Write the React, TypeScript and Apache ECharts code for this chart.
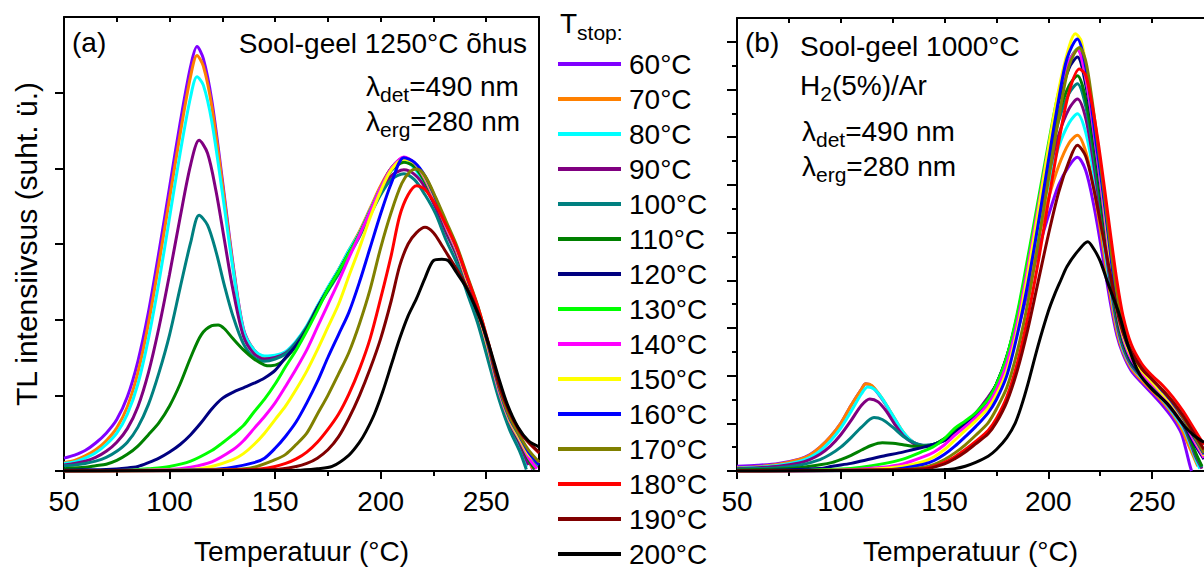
import React, { useEffect, useRef } from "react";
import * as echarts from "echarts";

const FONT = "Liberation Sans";

const stopLabels = ["60°C", "70°C", "80°C", "90°C", "100°C", "110°C", "120°C", "130°C", "140°C", "150°C", "160°C", "170°C", "180°C", "190°C", "200°C"];
const lineColors = ["#8000ff", "#ff8000", "#00ffff", "#800080", "#008080", "#008000", "#000080", "#00ff00", "#ff00ff", "#ffff00", "#0000ff", "#808000", "#ff0000", "#800000", "#000000"];

const xMajorTicks = [50, 100, 150, 200, 250];
const xMinorTicks = [75, 125, 175, 225];
const xTopTicks = [75, 100, 125, 150, 175, 200, 225, 250];
const aYTicks = [0, 1, 2, 3, 4, 5];
const bYMajorTicks = [0, 1, 2, 3, 4, 5, 6, 7, 8, 9];
const bYMinorTicks = [0.5, 1.5, 2.5, 3.5, 4.5, 5.5, 6.5, 7.5, 8.5];

// Panel (a): Sool-geel 1250°C õhus  — [temperature °C, intensity]
const a60 = [[50,0.17],[55,0.21],[60,0.27],[65,0.37],[70,0.5],[75,0.68],[80,0.98],[85,1.45],[90,2.1],[95,2.9],[100,3.75],[105,4.6],[110,5.35],[113,5.61],[116,5.45],[120,4.9],[125,3.85],[130,2.75],[135,1.88],[140,1.6],[145,1.5],[150,1.5],[155,1.56],[160,1.7],[165,1.9],[170,2.17],[175,2.42],[180,2.65],[185,2.9],[190,3.15],[195,3.45],[200,3.75],[205,4.0],[211,4.13],[216,4.05],[221,3.85],[226,3.55],[231,3.2],[236,2.9],[241,2.5],[246,2.1],[251,1.6],[256,1.05],[261,0.65],[266,0.38],[270,0.15],[272,0.02]];
const a70 = [[50,0.11],[55,0.14],[60,0.2],[65,0.28],[70,0.4],[75,0.57],[80,0.85],[85,1.3],[90,1.95],[95,2.75],[100,3.6],[105,4.45],[110,5.22],[113,5.49],[116,5.35],[120,4.82],[125,3.8],[130,2.72],[135,1.86],[140,1.6],[145,1.5],[150,1.5],[155,1.56],[160,1.7],[165,1.9],[170,2.17],[175,2.42],[180,2.66],[185,2.92],[190,3.17],[195,3.47],[200,3.77],[205,4.0],[211,4.12],[216,4.04],[221,3.84],[226,3.55],[231,3.22],[236,2.9],[241,2.5],[246,2.1],[251,1.6],[256,1.05],[261,0.66],[266,0.38],[270,0.15],[272,0.03]];
const a80 = [[50,0.1],[55,0.12],[60,0.17],[65,0.24],[70,0.35],[75,0.5],[80,0.75],[85,1.15],[90,1.75],[95,2.5],[100,3.35],[105,4.2],[110,4.95],[113,5.21],[116,5.1],[120,4.62],[125,3.68],[130,2.68],[135,1.86],[140,1.6],[145,1.52],[150,1.53],[155,1.58],[160,1.72],[165,1.92],[170,2.18],[175,2.43],[180,2.66],[185,2.92],[190,3.15],[195,3.45],[200,3.74],[205,3.97],[211,4.1],[216,4.0],[221,3.78],[226,3.5],[231,3.15],[236,2.85],[241,2.45],[246,2.05],[251,1.55],[256,1.0],[261,0.6],[266,0.32],[269,0.05]];
const a90 = [[50,0.08],[55,0.1],[60,0.13],[65,0.18],[70,0.26],[75,0.38],[80,0.56],[85,0.85],[90,1.3],[95,1.9],[100,2.6],[105,3.35],[110,4.05],[114,4.37],[118,4.2],[122,3.7],[126,3.05],[130,2.4],[135,1.78],[140,1.55],[145,1.48],[150,1.5],[155,1.56],[160,1.7],[165,1.9],[170,2.16],[175,2.4],[180,2.63],[185,2.88],[190,3.12],[195,3.4],[200,3.68],[205,3.9],[211,3.98],[216,3.92],[221,3.75],[226,3.48],[231,3.15],[236,2.85],[241,2.45],[246,2.05],[251,1.55],[256,1.02],[261,0.62],[266,0.35],[270,0.08]];
const a100 = [[50,0.07],[55,0.08],[60,0.1],[65,0.13],[70,0.18],[75,0.26],[80,0.38],[85,0.58],[90,0.88],[95,1.3],[100,1.8],[105,2.42],[110,3.02],[114,3.38],[118,3.25],[122,2.9],[126,2.45],[130,2.05],[135,1.68],[140,1.5],[145,1.45],[150,1.48],[155,1.55],[160,1.7],[165,1.9],[170,2.15],[175,2.38],[180,2.6],[185,2.85],[190,3.1],[195,3.38],[200,3.65],[205,3.85],[211,3.93],[216,3.85],[221,3.65],[226,3.4],[231,3.05],[236,2.75],[241,2.35],[246,1.95],[251,1.45],[256,0.95],[261,0.55],[266,0.25],[269,0.02]];
const a110 = [[50,0.03],[55,0.04],[60,0.05],[65,0.07],[70,0.09],[75,0.14],[80,0.22],[85,0.33],[90,0.48],[95,0.64],[100,0.86],[105,1.15],[110,1.5],[115,1.8],[120,1.92],[123,1.93],[126,1.88],[130,1.75],[135,1.6],[140,1.48],[145,1.4],[148,1.39],[152,1.42],[156,1.52],[160,1.66],[165,1.88],[170,2.15],[175,2.4],[180,2.63],[185,2.88],[190,3.13],[195,3.43],[200,3.72],[205,3.97],[211,4.08],[216,4.02],[221,3.82],[226,3.55],[231,3.2],[236,2.88],[241,2.48],[246,2.08],[251,1.58],[256,1.05],[261,0.65],[266,0.38],[270,0.15],[273,0.02]];
const a120 = [[50,0.01],[60,0.015],[70,0.02],[80,0.04],[85,0.06],[90,0.11],[95,0.17],[100,0.25],[105,0.35],[110,0.48],[115,0.64],[120,0.82],[125,0.96],[130,1.04],[135,1.1],[140,1.16],[145,1.23],[150,1.33],[155,1.5],[160,1.66],[165,1.87],[170,2.15],[175,2.4],[180,2.63],[185,2.88],[190,3.13],[195,3.43],[200,3.73],[205,4.0],[211,4.13],[216,4.06],[221,3.86],[226,3.57],[231,3.23],[236,2.92],[241,2.52],[246,2.12],[251,1.62],[256,1.08],[261,0.68],[266,0.4],[270,0.2],[274,0.04]];
const a130 = [[50,0],[80,0.01],[90,0.03],[100,0.06],[110,0.13],[120,0.27],[125,0.37],[130,0.48],[135,0.6],[140,0.78],[145,0.95],[150,1.15],[155,1.38],[160,1.6],[165,1.85],[170,2.12],[175,2.4],[180,2.63],[185,2.88],[190,3.13],[195,3.43],[200,3.73],[205,4.0],[211,4.14],[216,4.07],[221,3.85],[226,3.56],[231,3.22],[236,2.9],[241,2.5],[246,2.1],[251,1.6],[256,1.05],[261,0.66],[266,0.4],[270,0.2],[274,0.05]];
const a140 = [[50,0],[100,0.02],[110,0.05],[120,0.12],[130,0.28],[135,0.4],[140,0.56],[145,0.72],[150,0.9],[155,1.12],[160,1.35],[165,1.6],[170,1.9],[175,2.2],[180,2.5],[185,2.82],[190,3.12],[195,3.43],[200,3.74],[205,4.0],[211,4.15],[216,4.07],[221,3.86],[226,3.56],[231,3.22],[236,2.9],[241,2.5],[246,2.1],[251,1.6],[256,1.05],[261,0.66],[266,0.4],[270,0.18],[274,0.03]];
const a150 = [[50,0],[110,0.02],[120,0.06],[130,0.15],[135,0.23],[140,0.35],[145,0.5],[150,0.68],[155,0.86],[160,1.08],[165,1.32],[170,1.6],[175,1.9],[180,2.2],[185,2.58],[190,2.95],[195,3.35],[200,3.7],[205,3.98],[211,4.12],[216,4.07],[221,3.88],[226,3.58],[231,3.25],[236,2.93],[241,2.52],[246,2.12],[251,1.62],[256,1.08],[261,0.68],[266,0.42],[270,0.22],[275,0.1]];
const a160 = [[50,0],[120,0.02],[130,0.05],[140,0.11],[145,0.17],[150,0.3],[155,0.46],[160,0.65],[165,0.9],[170,1.18],[175,1.5],[180,1.8],[185,2.1],[190,2.5],[195,2.95],[200,3.4],[205,3.8],[211,4.14],[216,4.08],[221,3.9],[226,3.6],[231,3.27],[236,2.95],[241,2.55],[246,2.15],[251,1.65],[256,1.1],[261,0.7],[266,0.45],[270,0.25],[275,0.08]];
const a170 = [[50,0],[130,0.02],[140,0.05],[150,0.15],[155,0.22],[160,0.35],[165,0.5],[170,0.75],[175,1.0],[180,1.28],[185,1.57],[190,1.95],[195,2.4],[200,2.95],[205,3.42],[210,3.8],[214,3.96],[217,3.99],[221,3.9],[226,3.62],[231,3.3],[236,2.98],[241,2.58],[246,2.18],[251,1.68],[256,1.12],[261,0.72],[266,0.46],[270,0.28],[275,0.12]];
const a180 = [[50,0],[140,0.02],[150,0.06],[155,0.1],[160,0.16],[165,0.25],[170,0.38],[175,0.55],[180,0.75],[185,1.02],[190,1.35],[195,1.75],[200,2.28],[205,2.85],[209,3.37],[213,3.65],[217,3.77],[221,3.72],[226,3.52],[231,3.25],[236,2.95],[241,2.56],[246,2.17],[251,1.7],[256,1.15],[261,0.78],[266,0.52],[270,0.38],[275,0.24]];
const a190 = [[50,0],[150,0.02],[160,0.06],[165,0.1],[170,0.17],[175,0.28],[180,0.45],[185,0.7],[190,1.0],[195,1.35],[200,1.75],[205,2.25],[209,2.71],[213,3.0],[217,3.15],[221,3.22],[225,3.15],[229,2.98],[233,2.8],[237,2.62],[241,2.42],[246,2.1],[251,1.68],[256,1.15],[261,0.78],[266,0.52],[270,0.38],[275,0.25]];
const a200 = [[50,0],[160,0.01],[170,0.03],[177,0.06],[185,0.21],[190,0.38],[193,0.52],[197,0.75],[201,1.05],[205,1.4],[209,1.75],[213,2.05],[217,2.28],[221,2.55],[225,2.78],[229,2.8],[232,2.78],[236,2.62],[240,2.45],[244,2.22],[248,1.95],[252,1.6],[256,1.22],[260,0.88],[265,0.58],[270,0.4],[275,0.32]];

// Panel (b): Sool-geel 1000°C H2(5%)/Ar — [temperature °C, intensity]
const b60 = [[50,0.1],[60,0.12],[70,0.16],[80,0.25],[85,0.34],[90,0.5],[95,0.72],[100,1.0],[105,1.38],[110,1.72],[112,1.83],[115,1.78],[120,1.5],[125,1.15],[130,0.8],[135,0.6],[140,0.53],[145,0.55],[150,0.65],[155,0.82],[160,0.97],[165,1.17],[170,1.45],[175,1.75],[180,2.2],[185,2.9],[190,3.75],[195,4.6],[200,5.35],[205,6.0],[210,6.4],[214,6.58],[218,6.3],[222,5.55],[226,4.55],[230,3.5],[233,2.85],[236,2.45],[240,2.1],[245,1.85],[250,1.62],[255,1.38],[260,1.1],[264,0.8],[266,0.5],[268,0.15],[269,0]];
const b70 = [[50,0.07],[60,0.09],[70,0.14],[80,0.24],[85,0.33],[90,0.5],[95,0.72],[100,1.0],[105,1.38],[110,1.72],[112,1.83],[115,1.79],[120,1.52],[125,1.17],[130,0.82],[135,0.6],[140,0.53],[145,0.55],[150,0.66],[155,0.83],[160,0.98],[165,1.18],[170,1.46],[175,1.78],[180,2.25],[185,3.0],[190,3.9],[195,4.85],[200,5.7],[205,6.4],[210,6.88],[214,7.04],[218,6.7],[222,5.9],[226,4.8],[230,3.65],[233,2.95],[236,2.5],[240,2.15],[245,1.9],[250,1.68],[255,1.45],[260,1.18],[264,0.9],[267,0.6],[270,0.3],[272,0.1]];
const b80 = [[50,0.06],[60,0.08],[70,0.12],[80,0.2],[85,0.28],[90,0.42],[95,0.63],[100,0.9],[105,1.25],[110,1.62],[113,1.76],[116,1.72],[120,1.52],[125,1.17],[130,0.82],[135,0.6],[140,0.53],[145,0.56],[150,0.67],[155,0.84],[160,0.99],[165,1.2],[170,1.48],[175,1.8],[180,2.3],[185,3.1],[190,4.05],[195,5.05],[200,6.0],[205,6.8],[210,7.3],[214,7.49],[218,7.1],[222,6.2],[226,5.0],[230,3.8],[233,3.05],[236,2.55],[240,2.2],[245,1.95],[250,1.72],[255,1.5],[260,1.22],[265,0.9],[268,0.6],[271,0.25],[273,0.05]];
const b90 = [[50,0.05],[60,0.07],[70,0.1],[80,0.17],[85,0.24],[90,0.35],[95,0.52],[100,0.76],[105,1.06],[110,1.38],[114,1.51],[118,1.45],[122,1.25],[126,0.98],[130,0.75],[135,0.58],[140,0.53],[145,0.56],[150,0.67],[155,0.84],[160,1.0],[165,1.21],[170,1.49],[175,1.82],[180,2.35],[185,3.15],[190,4.15],[195,5.2],[200,6.2],[205,7.05],[210,7.6],[214,7.8],[218,7.4],[222,6.4],[226,5.15],[230,3.9],[233,3.1],[236,2.6],[240,2.22],[245,1.97],[250,1.75],[255,1.52],[260,1.25],[265,0.95],[268,0.65],[271,0.3],[274,0.05]];
const b100 = [[50,0.04],[60,0.05],[70,0.07],[80,0.12],[90,0.24],[95,0.35],[100,0.5],[105,0.7],[110,0.92],[116,1.12],[120,1.08],[125,0.92],[130,0.73],[135,0.6],[140,0.54],[145,0.56],[150,0.67],[155,0.85],[160,1.0],[165,1.21],[171,1.5],[175,1.82],[180,2.38],[185,3.2],[190,4.25],[195,5.35],[200,6.45],[205,7.35],[210,7.92],[214,8.12],[218,7.65],[222,6.6],[226,5.3],[230,4.0],[233,3.2],[236,2.65],[240,2.25],[245,1.98],[250,1.77],[255,1.55],[260,1.28],[265,0.98],[268,0.7],[271,0.35],[274,0.08]];
const b110 = [[50,0.02],[60,0.03],[70,0.04],[80,0.07],[90,0.13],[96,0.18],[100,0.24],[105,0.33],[110,0.44],[115,0.54],[120,0.59],[125,0.58],[130,0.55],[135,0.52],[140,0.52],[145,0.56],[150,0.68],[155,0.86],[160,1.0],[165,1.21],[171,1.5],[175,1.82],[180,2.4],[185,3.22],[190,4.3],[195,5.42],[200,6.55],[205,7.5],[210,8.08],[214,8.29],[218,7.8],[222,6.75],[226,5.45],[230,4.1],[233,3.25],[236,2.7],[240,2.28],[245,2.0],[250,1.78],[255,1.56],[260,1.3],[265,1.0],[268,0.72],[271,0.38],[274,0.1]];
const b120 = [[50,0.01],[70,0.02],[90,0.05],[96,0.1],[105,0.16],[110,0.21],[120,0.31],[128,0.38],[135,0.45],[140,0.5],[145,0.56],[151,0.66],[157,0.87],[160,0.98],[165,1.18],[171,1.5],[175,1.82],[180,2.4],[185,3.25],[190,4.35],[195,5.5],[200,6.7],[205,7.75],[210,8.45],[214,8.68],[218,8.1],[222,7.0],[226,5.65],[230,4.25],[233,3.35],[236,2.75],[240,2.3],[245,2.0],[250,1.8],[255,1.58],[260,1.3],[265,1.0],[270,0.6],[275,0.25]];
const b130 = [[50,0],[80,0.01],[100,0.04],[110,0.08],[120,0.15],[130,0.25],[140,0.42],[145,0.52],[150,0.68],[155,0.9],[160,1.05],[165,1.22],[171,1.5],[175,1.82],[180,2.4],[185,3.3],[190,4.45],[195,5.65],[200,6.85],[205,7.95],[210,8.6],[214,8.85],[218,8.25],[222,7.1],[226,5.75],[230,4.3],[233,3.4],[236,2.8],[240,2.35],[245,2.05],[250,1.82],[255,1.6],[260,1.35],[265,1.05],[270,0.68],[275,0.3]];
const b140 = [[50,0],[100,0.02],[120,0.08],[130,0.15],[140,0.3],[145,0.4],[150,0.55],[155,0.75],[160,0.93],[165,1.12],[171,1.4],[175,1.7],[180,2.25],[185,3.1],[190,4.25],[195,5.5],[200,6.75],[205,7.9],[210,8.6],[214,8.83],[218,8.25],[222,7.1],[226,5.75],[230,4.3],[233,3.4],[236,2.8],[240,2.35],[245,2.05],[250,1.82],[255,1.6],[260,1.35],[265,1.05],[270,0.65],[275,0.28]];
const b150 = [[50,0],[110,0.02],[120,0.05],[130,0.1],[140,0.2],[145,0.3],[150,0.45],[155,0.65],[160,0.85],[165,1.05],[171,1.32],[175,1.6],[180,2.1],[185,2.95],[190,4.1],[195,5.4],[200,6.75],[205,8.0],[210,8.9],[213,9.17],[216,9.0],[219,8.2],[222,7.3],[226,5.9],[230,4.4],[233,3.45],[236,2.85],[240,2.4],[245,2.1],[250,1.86],[255,1.62],[260,1.38],[265,1.08],[270,0.7],[275,0.32]];
const b160 = [[50,0],[120,0.02],[130,0.06],[140,0.14],[145,0.22],[150,0.35],[155,0.52],[160,0.72],[165,0.93],[171,1.22],[175,1.5],[180,2.0],[185,2.85],[190,3.9],[195,5.15],[200,6.5],[205,7.8],[209,8.65],[214,9.06],[217,8.7],[220,7.9],[223,6.9],[226,5.95],[229,4.9],[232,3.85],[235,3.1],[238,2.65],[242,2.35],[246,2.1],[250,1.92],[255,1.68],[260,1.42],[265,1.1],[270,0.72],[275,0.35]];
const b170 = [[50,0],[130,0.03],[140,0.08],[145,0.14],[150,0.24],[155,0.38],[160,0.55],[165,0.75],[171,1.01],[175,1.3],[180,1.75],[185,2.5],[190,3.5],[195,4.75],[200,6.1],[205,7.4],[210,8.5],[215,8.88],[218,8.6],[221,7.8],[224,6.8],[227,5.8],[230,4.7],[233,3.75],[236,3.05],[240,2.5],[245,2.15],[250,1.92],[255,1.7],[260,1.45],[265,1.12],[270,0.75],[275,0.38]];
const b180 = [[50,0],[130,0.02],[140,0.05],[145,0.1],[150,0.18],[155,0.3],[160,0.45],[165,0.62],[171,0.85],[175,1.1],[180,1.55],[185,2.25],[190,3.2],[195,4.35],[200,5.65],[205,6.9],[210,7.95],[215,8.43],[218,8.3],[221,7.7],[224,6.9],[227,5.95],[230,4.95],[233,4.0],[236,3.25],[240,2.65],[245,2.25],[250,2.0],[255,1.8],[260,1.55],[265,1.25],[270,0.9],[275,0.55]];
const b190 = [[50,0],[140,0.04],[150,0.15],[155,0.26],[160,0.4],[165,0.57],[171,0.78],[175,1.02],[180,1.45],[185,2.1],[190,2.95],[195,3.95],[200,4.95],[205,5.85],[210,6.5],[214,6.83],[218,6.6],[222,5.9],[226,5.0],[230,4.1],[233,3.4],[236,2.9],[240,2.5],[245,2.15],[250,1.92],[255,1.7],[260,1.45],[265,1.15],[270,0.8],[275,0.45]];
const b200 = [[50,0],[140,0.01],[150,0.03],[155,0.05],[160,0.1],[165,0.18],[171,0.31],[175,0.45],[180,0.7],[184,1.0],[187,1.36],[190,1.8],[195,2.62],[200,3.35],[203,3.7],[206,4.0],[209,4.29],[214,4.6],[219,4.81],[222,4.65],[225,4.4],[229,3.9],[234,3.31],[239,2.55],[244,2.03],[250,1.71],[254,1.55],[258,1.38],[262,1.15],[266,0.92],[270,0.75],[275,0.6]];

const panelA = [a60, a70, a80, a90, a100, a110, a120, a130, a140, a150, a160, a170, a180, a190, a200];
const panelB = [b60, b70, b80, b90, b100, b110, b120, b130, b140, b150, b160, b170, b180, b190, b200];

let measureCtx: CanvasRenderingContext2D | null = null;
function textWidth(text: string, size: number): number {
  if (!measureCtx) measureCtx = document.createElement("canvas").getContext("2d");
  if (!measureCtx) return text.length * size * 0.55;
  measureCtx.font = `${size}px "${FONT}"`;
  return measureCtx.measureText(text).width;
}

type Part = { t: string; sub?: boolean };
function textLine(x: number, baseline: number, parts: Part[], align: "left" | "right" = "left", main = 28, subSize = 21, subDrop = 6) {
  const widths = parts.map((p) => textWidth(p.t, p.sub ? subSize : main));
  const total = widths.reduce((s, w) => s + w, 0);
  let cx = align === "right" ? x - total : x;
  const els: any[] = [];
  parts.forEach((p, i) => {
    const fs = p.sub ? subSize : main;
    const bl = p.sub ? baseline + subDrop : baseline;
    els.push({
      type: "text",
      x: cx,
      y: bl - 0.3465 * fs,
      silent: true,
      style: { text: p.t, fontSize: fs, fontFamily: FONT, fill: "#000", align: "left", verticalAlign: "middle" },
    });
    cx += widths[i];
  });
  return els;
}

const black = { color: "#000", width: 2 };

function xAxesFor(grid: number) {
  return [
    {
      type: "value", gridIndex: grid, position: "bottom", min: 50, max: 275, interval: 50,
      axisLine: { show: true, onZero: false, lineStyle: black },
      axisTick: { show: true, customValues: xMajorTicks, length: 8, lineStyle: black },
      axisLabel: { show: true, customValues: xMajorTicks, margin: 16, fontSize: 28, fontFamily: FONT, color: "#000", lineHeight: 28 },
      splitLine: { show: false },
      name: "Temperatuur (°C)", nameLocation: "middle", nameGap: 66,
      nameTextStyle: { fontSize: 28, fontFamily: FONT, color: "#000", lineHeight: 28 },
    },
    {
      type: "value", gridIndex: grid, position: "bottom", min: 50, max: 275,
      axisLine: { show: false, onZero: false },
      axisTick: { show: true, customValues: xMinorTicks, length: 5, lineStyle: black },
      axisLabel: { show: false }, splitLine: { show: false },
    },
    {
      type: "value", gridIndex: grid, position: "top", min: 50, max: 275,
      axisLine: { show: true, onZero: false, lineStyle: black },
      axisTick: { show: true, inside: true, customValues: xTopTicks, length: 5, lineStyle: black },
      axisLabel: { show: false }, splitLine: { show: false },
    },
  ];
}

export default function App() {
  const ref = useRef<HTMLDivElement>(null);
  useEffect(() => {
    if (!ref.current) return;
    const chart = echarts.init(ref.current, undefined, { renderer: "svg" });

    const series: any[] = [];
    panelA.forEach((d, i) => {
      series.push({
        type: "line", name: stopLabels[i], xAxisIndex: 0, yAxisIndex: 0, data: d,
        showSymbol: false, symbol: "none", smooth: 0.3, clip: true,
        lineStyle: { width: 3, color: lineColors[i] }, itemStyle: { color: lineColors[i] },
      });
    });
    panelB.forEach((d, i) => {
      series.push({
        type: "line", name: stopLabels[i], xAxisIndex: 3, yAxisIndex: 2, data: d,
        showSymbol: false, symbol: "none", smooth: 0.3, clip: true,
        lineStyle: { width: 3, color: lineColors[i] }, itemStyle: { color: lineColors[i] },
      });
    });

    const graphics: any[] = [
      ...textLine(72, 52, [{ t: "(a)" }]),
      ...textLine(527, 53, [{ t: "Sool-geel 1250°C õhus" }], "right"),
      ...textLine(366, 96, [{ t: "λ" }, { t: "det", sub: true }, { t: "=490 nm" }]),
      ...textLine(366, 131, [{ t: "λ" }, { t: "erg", sub: true }, { t: "=280 nm" }]),
      ...textLine(745, 52, [{ t: "(b)" }]),
      ...textLine(800, 56, [{ t: "Sool-geel 1000°C" }]),
      ...textLine(800, 95, [{ t: "H" }, { t: "2", sub: true }, { t: "(5%)/Ar" }]),
      ...textLine(802, 141, [{ t: "λ" }, { t: "det", sub: true }, { t: "=490 nm" }]),
      ...textLine(802, 176, [{ t: "λ" }, { t: "erg", sub: true }, { t: "=280 nm" }]),
      ...textLine(560, 33, [{ t: "T" }, { t: "stop:", sub: true }], "left", 28, 21, 7),
    ];

    chart.setOption({
      animation: false,
      backgroundColor: "#fff",
      textStyle: { fontFamily: FONT },
      grid: [
        { left: 64, top: 17, width: 475, height: 456, containLabel: false },
        { left: 737, top: 18, width: 475, height: 455, containLabel: false },
      ],
      xAxis: [...xAxesFor(0), ...xAxesFor(1)],
      yAxis: [
        {
          type: "value", gridIndex: 0, position: "left", min: 0, max: 6,
          axisLine: { show: true, onZero: false, lineStyle: black },
          axisTick: { show: true, customValues: aYTicks, length: 9, lineStyle: black },
          axisLabel: { show: false }, splitLine: { show: false },
          name: "TL intensiivsus (suht. ü.)", nameLocation: "middle", nameGap: 23,
          nameTextStyle: { fontSize: 30, fontFamily: FONT, color: "#000", lineHeight: 30 },
        },
        {
          type: "value", gridIndex: 0, position: "right", min: 0, max: 6,
          axisLine: { show: true, onZero: false, lineStyle: black },
          axisTick: { show: false }, axisLabel: { show: false }, splitLine: { show: false },
        },
        {
          type: "value", gridIndex: 1, position: "left", min: 0, max: 9.5,
          axisLine: { show: true, onZero: false, lineStyle: black },
          axisTick: { show: true, customValues: bYMajorTicks, length: 10, lineStyle: black },
          axisLabel: { show: false }, splitLine: { show: false },
        },
        {
          type: "value", gridIndex: 1, position: "left", min: 0, max: 9.5,
          axisLine: { show: false, onZero: false },
          axisTick: { show: true, customValues: bYMinorTicks, length: 5, lineStyle: black },
          axisLabel: { show: false }, splitLine: { show: false },
        },
      ],
      legend: {
        data: stopLabels, orient: "vertical", left: 558, top: 49, padding: 0,
        icon: "rect", itemWidth: 63, itemHeight: 4, itemGap: 5, selectedMode: false,
        textStyle: { fontSize: 28, fontFamily: FONT, color: "#000", lineHeight: 30, padding: [0, 0, 0, 3] },
      },
      graphic: { elements: graphics },
      series,
    });
    return () => chart.dispose();
  }, []);
  return <div ref={ref} style={{ position: "fixed", left: 0, top: 0, width: 1204, height: 570, background: "#fff" }} />;
}
